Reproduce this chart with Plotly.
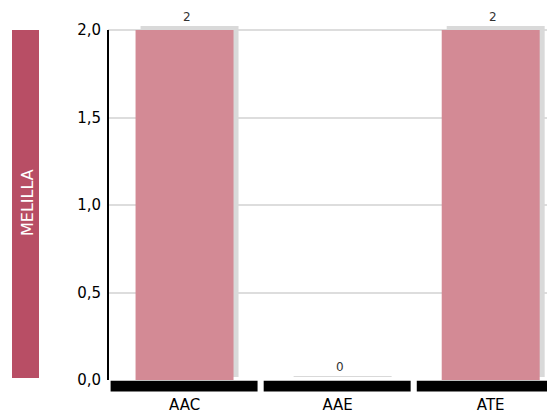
import plotly.graph_objects as go

categories = ["AAC", "AAE", "ATE"]
values = [2, 0, 2]
value_labels = ["2", "0", "2"]
region_label = "MELILLA"
y_tick_vals = [0, 0.5, 1.0, 1.5, 2.0]

# layout constants (pixels, page coordinates); the page body adds an 8px margin
BODY = 8
PAGE_W, PAGE_H = 555, 412
W, H = PAGE_W - BODY, PAGE_H - BODY
ML = 108 - BODY
PLOT_BOTTOM_PX = 380 - BODY
MB = H - PLOT_BOTTOM_PX
Y_TOP_PX = 30 - BODY     # row of the y=2.0 line in figure coordinates
SHADOW_UP_PX = 4
MT = Y_TOP_PX - SHADOW_UP_PX
y_max = 2.0
px_per_unit = (PLOT_BOTTOM_PX - Y_TOP_PX) / y_max
plot_h = H - MT - MB
y_top = y_max + SHADOW_UP_PX / px_per_unit
x_range = [-0.5, 2.42]
px_per_cat = (W - ML) / (x_range[1] - x_range[0])

bar_w = 0.64
shadow_dx = 5 / px_per_cat
shadow_dy = SHADOW_UP_PX / px_per_unit
thin = 1 / px_per_unit

PINK = "#D38A95"
SHADOW = "#D9D9D9"
STRIP = "#B84E65"
FONT = "DejaVu Sans"

fig = go.Figure()

# shadow bars (offset right and up)
fig.add_trace(go.Bar(
    x=categories,
    y=[v + thin for v in values],
    base=shadow_dy - thin,
    width=bar_w,
    offset=-bar_w / 2 + shadow_dx,
    marker=dict(color=SHADOW, line=dict(width=0)),
    cliponaxis=False,
    hoverinfo="skip",
    showlegend=False,
))

# main bars
fig.add_trace(go.Bar(
    x=categories,
    y=[v + thin for v in values],
    base=-thin,
    width=bar_w,
    offset=-bar_w / 2,
    marker=dict(color=PINK, line=dict(width=0)),
    cliponaxis=False,
    showlegend=False,
))

annotations = []
for c, v, t in zip(categories, values, value_labels):
    annotations.append(dict(
        x=c, y=v + shadow_dy, xref="x", yref="y", text=t, showarrow=False,
        xanchor="center", yanchor="bottom", xshift=2, yshift=0,
        font=dict(family=FONT, size=12, color="#333333"),
    ))

plot_w = W - ML
annotations.append(dict(
    text=region_label, xref="paper", yref="paper",
    x=(27 - BODY - ML) / plot_w, y=(PLOT_BOTTOM_PX - (203 - BODY)) / plot_h,
    xanchor="center", yanchor="middle", textangle=-90,
    showarrow=False, font=dict(family=FONT, size=16, color="white"),
))

shapes = []
# black category baselines
for i, _ in enumerate(categories):
    x0 = max(i - 0.483, x_range[0])
    x1 = i + 0.477
    shapes.append(dict(
        type="rect", xref="x", yref="paper",
        x0=x0, x1=x1, y0=-0.8 / plot_h, y1=-11.5 / plot_h,
        fillcolor="black", line=dict(width=0), layer="above",
    ))

# y axis line from 0 to y_max
shapes.append(dict(
    type="line", xref="paper", yref="y", x0=0, x1=0, y0=0, y1=y_max,
    line=dict(color="black", width=2), layer="above",
))

# left region strip
shapes.append(dict(
    type="rect", xref="paper", yref="paper",
    x0=(12 - BODY - ML) / plot_w, x1=(39 - BODY - ML) / plot_w,
    y0=2 / plot_h, y1=(PLOT_BOTTOM_PX - Y_TOP_PX) / plot_h,
    fillcolor=STRIP, line=dict(width=0),
))

fig.update_layout(
    width=W, height=H,
    margin=dict(l=ML, r=0, t=MT, b=MB, pad=0, autoexpand=False),
    paper_bgcolor="white", plot_bgcolor="white",
    barmode="overlay",
    separators=",.",
    font=dict(family=FONT, size=15, color="black"),
    shapes=shapes,
    annotations=annotations,
    xaxis=dict(
        type="category", range=x_range, showgrid=False, showline=False,
        zeroline=False, ticks="", tickfont=dict(size=15, color="black"),
        ticklabelstandoff=14, automargin=False,
    ),
    yaxis=dict(
        range=[0, y_top], tickvals=y_tick_vals, tickformat=".1f",
        showgrid=True, gridcolor="#DDDDDD", gridwidth=1.5,
        showline=False,
        zeroline=False, ticks="", tickfont=dict(size=15, color="black"),
        ticklabelstandoff=6, automargin=False,
    ),
)

fig.write_html("out.html")
